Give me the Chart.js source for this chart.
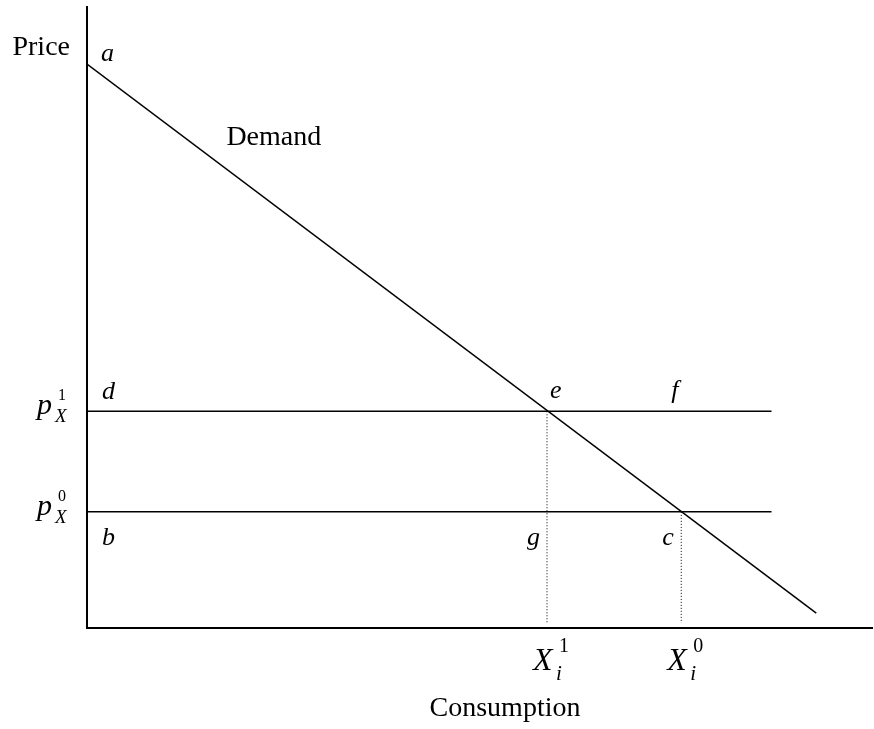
<!DOCTYPE html>
<html>
<head>
<meta charset="utf-8">
<script src="https://cdn.jsdelivr.net/npm/chart.js@4.4.1/dist/chart.umd.min.js"></script>
<style>
  html, body { margin: 0; padding: 0; background: #ffffff; }
  canvas { display: block; }
</style>
</head>
<body>
<canvas id="chart" width="874" height="729"></canvas>
<script>
// ---------- data (value units on a 0–100 price / quantity scale) ----------
const demandQ      = [0, 92.9];        // demand curve: quantity at ends
const demandP      = [90.8, 2.4];      // demand curve: price at ends
const priceLevels  = [34.9, 18.7];     // p_X^1 (with tax), p_X^0 (before)
const priceSups    = ['1', '0'];
const quantities   = [58.6, 75.7];     // X_i^1, X_i^0
const quantitySups = ['1', '0'];
const priceLineEnd = 87.2;             // right end of the two price lines
const guideBottom  = 0.8;              // lower end of the dotted guides
const axisMaxQ = 100;
const axisMaxP = 100;
const cornerLabels = ['a', 'd', 'e', 'f', 'b', 'g', 'c'];
const axisTitles   = ['Price', 'Consumption'];
const curveName    = 'Demand';
const curveNameAt  = [23.8, 77.8];     // where the curve name sits (q, p)

// ---------- datasets built from the arrays ----------
const line = (pts, opts = {}) => Object.assign({
  data: pts, showLine: true, borderColor: '#000000', borderWidth: 1.5,
  pointRadius: 0, pointHoverRadius: 0, fill: false, tension: 0
}, opts);

const datasets = [
  line(demandQ.map((q, i) => ({ x: q, y: demandP[i] })), { label: curveName }),
  ...priceLevels.map(p => line([{ x: 0, y: p }, { x: priceLineEnd, y: p }])),
  ...quantities.map((q, i) => line([{ x: q, y: priceLevels[i] }, { x: q, y: guideBottom }],
      { borderWidth: 1, borderDash: [1, 2] }))
];

// ---------- text drawn through the scales ----------
const SERIF = '"Liberation Serif", "Times New Roman", serif';
const labelPlugin = {
  id: 'econLabels',
  afterDatasetsDraw(chart) {
    const { ctx, chartArea: A, scales: { x, y } } = chart;
    const px = v => x.getPixelForValue(v);
    const py = v => y.getPixelForValue(v);
    const put = (t, xx, yy, size, italic, align = 'left') => {
      ctx.font = (italic ? 'italic ' : '') + size + 'px ' + SERIF;
      ctx.textAlign = align;
      ctx.fillText(t, xx, yy);
    };
    ctx.save();
    ctx.fillStyle = '#000000';
    ctx.textBaseline = 'alphabetic';

    // axis titles
    put(axisTitles[0], A.left - 17, A.top + 48, 28, false, 'right');
    put(axisTitles[1], A.left + 418, A.bottom + 88, 28, false, 'center');

    // curve name
    put(curveName, px(curveNameAt[0]), py(curveNameAt[1]), 28, false, 'center');

    // price labels p_X^k
    priceLevels.forEach((p, i) => {
      const yy = py(p);
      put('p', A.left - 50, yy + 3, 30, true);
      put('X', A.left - 32, yy + 11, 19, true);
      put(priceSups[i], A.left - 29, yy - 11, 16, false);
    });

    // quantity labels X_i^k
    quantities.forEach((q, i) => {
      const xx = px(q);
      put('X', xx - 14, A.bottom + 42, 32, true);
      put('i', xx + 9, A.bottom + 52, 21, true);
      put(quantitySups[i], xx + 12, A.bottom + 24, 20, false);
    });

    // corner letters, anchored to the points they name
    const anchors = [
      [0, demandP[0], 14, -3],                    // a
      [0, priceLevels[0], 15, -12],               // d
      [quantities[0], priceLevels[0], 3, -13],    // e
      [quantities[1], priceLevels[0], -10, -13],  // f
      [0, priceLevels[1], 15, 33],                // b
      [quantities[0], priceLevels[1], -20, 33],   // g
      [quantities[1], priceLevels[1], -19, 33]    // c
    ];
    cornerLabels.forEach((t, i) => {
      const [q, p, dx, dy] = anchors[i];
      put(t, px(q) + dx, py(p) + dy, 26, true);
    });
    ctx.restore();
  }
};

function build() {
  new Chart(document.getElementById('chart'), {
    type: 'scatter',
    data: { datasets },
    options: {
      responsive: false,
      animation: false,
      devicePixelRatio: 1,
      layout: { padding: { left: 87, top: 7, right: 2, bottom: 101 } },
      plugins: { legend: { display: false }, tooltip: { enabled: false } },
      events: [],
      scales: {
        x: {
          type: 'linear', min: 0, max: axisMaxQ,
          grid: { display: false, drawTicks: false, tickLength: 0 },
          ticks: { display: false, padding: 0 },
          border: { display: true, color: '#000000', width: 2 }
        },
        y: {
          type: 'linear', min: 0, max: axisMaxP,
          grid: { display: false, drawTicks: false, tickLength: 0 },
          ticks: { display: false, padding: 0 },
          border: { display: true, color: '#000000', width: 2 }
        }
      }
    },
    plugins: [labelPlugin]
  });
}

if (document.fonts && document.fonts.load) {
  Promise.all([
    document.fonts.load('28px "Liberation Serif"'),
    document.fonts.load('italic 28px "Liberation Serif"')
  ]).then(build, build);
} else {
  build();
}
</script>
</body>
</html>
